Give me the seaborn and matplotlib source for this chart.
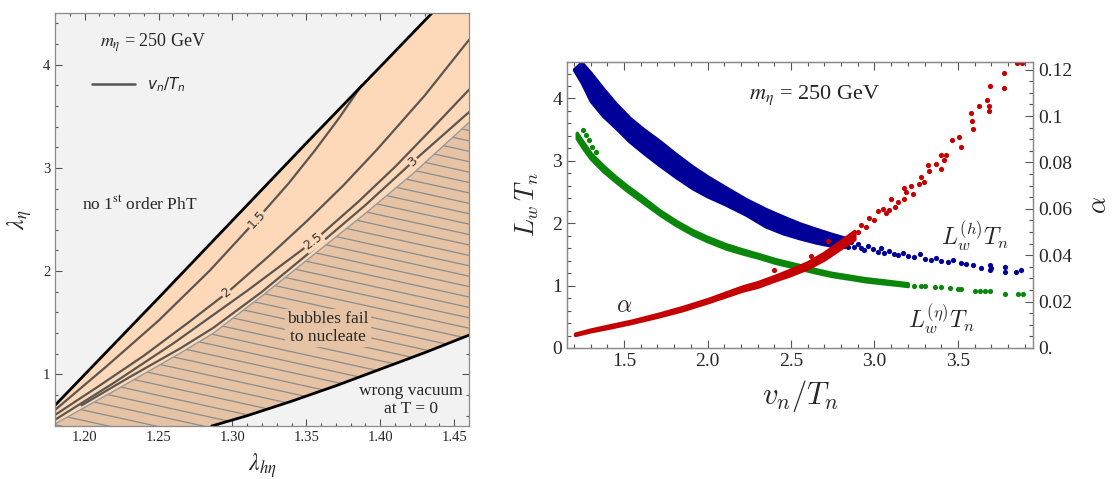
import numpy as np
import matplotlib
matplotlib.use("Agg")
import matplotlib.pyplot as plt
import matplotlib.ticker as mticker
from matplotlib.lines import Line2D
import seaborn as sns

# ====================== LEFT PANEL DATA (lambda_heta, lambda_eta) ======================
LAM_XLIM = (1.18, 1.46)
LAM_YLIM = (0.5, 4.5)
lam_xticks = [1.20, 1.25, 1.30, 1.35, 1.40, 1.45]
lam_yticks = [1, 2, 3, 4]

# boundary: no first-order phase transition (upper black line)
nopt_x = [1.18, 1.25, 1.30, 1.35, 1.40, 1.435]
nopt_y = [0.70, 1.74, 2.49, 3.24, 3.98, 4.50]

# boundary: wrong vacuum at T=0 (lower black line)
vac_x = [1.286, 1.31, 1.34, 1.37, 1.40, 1.43, 1.46]
vac_y = [0.50, 0.60, 0.74, 0.89, 1.05, 1.21, 1.38]

# boundary: bubbles fail to nucleate (top of hatched region)
nucl_x = [1.18, 1.22, 1.2645, 1.287, 1.32, 1.3547, 1.39, 1.4223, 1.46]
nucl_y = [0.52, 0.84, 1.204, 1.398, 1.76, 2.156, 2.56, 2.947, 3.44]

# v_n/T_n contours
c15_x = [1.18, 1.215, 1.25, 1.285, 1.3163, 1.338, 1.356, 1.372, 1.3874]
c15_y = [0.655, 1.08, 1.52, 2.01, 2.497, 2.85, 3.173, 3.48, 3.80]
c20_x = [1.18, 1.21, 1.24, 1.27, 1.296, 1.325, 1.35, 1.375, 1.3975, 1.43, 1.46]
c20_y = [0.607, 0.89, 1.18, 1.50, 1.786, 2.15, 2.48, 2.83, 3.173, 3.70, 4.24]
c25_x = [1.18, 1.22, 1.26, 1.31, 1.3546, 1.385, 1.41, 1.435, 1.46]
c25_y = [0.56, 0.92, 1.30, 1.81, 2.287, 2.67, 3.01, 3.38, 3.757]
c30_x = [1.198, 1.23, 1.2645, 1.287, 1.32, 1.3547, 1.39, 1.4222, 1.46]
c30_y = [0.70, 0.97, 1.25, 1.45, 1.80, 2.21, 2.64, 3.062, 3.54]
contour_labels = ["1.5", "2", "2.5", "3"]
contour_label_x = [1.3163, 1.296, 1.3546, 1.4222]
contour_label_y = [2.497, 1.786, 2.287, 3.062]

# ====================== RIGHT PANEL DATA (v_n/T_n) ======================
VT_XLIM = (1.158, 3.95)
LT_YLIM = (0.0, 4.585)
ALPHA_YLIM = (0.0, 0.1233)
vt_xticks = [1.5, 2.0, 2.5, 3.0, 3.5]
lt_yticks = [0, 1, 2, 3, 4]
alpha_ticks = [0.0, 0.02, 0.04, 0.06, 0.08, 0.10, 0.12]
alpha_tick_labels = ["0.", "0.02", "0.04", "0.06", "0.08", "0.1", "0.12"]

# L_w^(h) T_n : dense band (envelopes) + sparse points
lh_x = [1.20, 1.245, 1.30, 1.374, 1.45, 1.533, 1.62, 1.712, 1.81, 1.91, 2.00, 2.10,
        2.228, 2.347, 2.45, 2.55, 2.65, 2.743, 2.82]
lh_hi = [4.47, 4.58, 4.41, 4.16, 3.92, 3.69, 3.50, 3.32, 3.11, 2.91, 2.75, 2.59,
         2.39, 2.23, 2.11, 2.00, 1.91, 1.83, 1.77]
lh_lo = [4.46, 4.26, 3.96, 3.72, 3.53, 3.31, 3.12, 2.93, 2.74, 2.56, 2.43, 2.31,
         2.14, 1.95, 1.84, 1.76, 1.69, 1.64, 1.62]
lh_pts_x = [2.84, 2.86, 2.88, 2.90, 2.92, 2.94, 2.96, 2.99, 3.02, 3.04, 3.06, 3.09, 3.12,
            3.14, 3.17, 3.20, 3.24, 3.27, 3.30, 3.34, 3.37, 3.40, 3.44, 3.47, 3.52, 3.55,
            3.59, 3.64, 3.69, 3.69, 3.70, 3.78, 3.78, 3.85, 3.88]
lh_pts_y = [1.62, 1.70, 1.62, 1.66, 1.60, 1.57, 1.63, 1.58, 1.54, 1.60, 1.52, 1.56, 1.50,
            1.49, 1.53, 1.47, 1.46, 1.50, 1.42, 1.41, 1.45, 1.39, 1.38, 1.41, 1.36, 1.34,
            1.33, 1.28, 1.33, 1.25, 1.29, 1.30, 1.22, 1.22, 1.25]

# L_w^(eta) T_n
le_x = [1.216, 1.26, 1.30, 1.374, 1.45, 1.513, 1.60, 1.712, 1.81, 1.91, 2.00, 2.109,
        2.20, 2.307, 2.406, 2.545, 2.65, 2.743, 2.85, 2.942, 3.04, 3.14, 3.20]
le_hi = [3.45, 3.28, 3.125, 2.925, 2.745, 2.61, 2.44, 2.21, 2.04, 1.89, 1.78, 1.665,
         1.588, 1.505, 1.425, 1.335, 1.262, 1.206, 1.16, 1.12, 1.09, 1.058, 1.038]
le_lo = [3.36, 3.18, 3.035, 2.835, 2.665, 2.53, 2.36, 2.14, 1.97, 1.82, 1.71, 1.595,
         1.522, 1.445, 1.365, 1.275, 1.208, 1.154, 1.11, 1.07, 1.04, 1.012, 0.992]
le_pts_x = [1.255, 1.27, 1.29, 1.31, 1.333,
            3.24, 3.28, 3.30, 3.36, 3.40, 3.45, 3.50, 3.52, 3.60, 3.63, 3.66, 3.69,
            3.78, 3.86, 3.89]
le_pts_y = [3.49, 3.42, 3.33, 3.23, 3.14,
            1.00, 0.99, 0.99, 0.98, 0.97, 0.96, 0.95, 0.94, 0.92, 0.91, 0.91, 0.91,
            0.87, 0.86, 0.86]

# alpha
al_x = [1.206, 1.30, 1.414, 1.55, 1.712, 1.85, 2.009, 2.10, 2.207, 2.30, 2.406, 2.50,
        2.60, 2.70, 2.80, 2.88]
al_hi = [0.0062, 0.0080, 0.0098, 0.0119, 0.0149, 0.0177, 0.0213, 0.0237, 0.0265, 0.0284,
         0.0312, 0.0339, 0.0370, 0.0412, 0.0463, 0.0505]
al_lo = [0.0056, 0.0072, 0.0088, 0.0109, 0.0137, 0.0163, 0.0199, 0.0221, 0.0247, 0.0264,
         0.0292, 0.0315, 0.0344, 0.0382, 0.0431, 0.0469]
al_pts_x = [2.40, 2.62, 2.72, 2.90, 2.92, 2.95, 2.97, 3.00, 3.02, 3.05, 3.07, 3.09, 3.10,
            3.121, 3.14, 3.18, 3.18, 3.19, 3.22, 3.229, 3.269, 3.279, 3.299, 3.319,
            3.329, 3.368, 3.398, 3.398, 3.418, 3.428, 3.467, 3.505, 3.517, 3.577,
            3.587, 3.59, 3.627, 3.676, 3.686, 3.686, 3.69, 3.775, 3.775, 3.854, 3.884]
al_pts_y = [0.0335, 0.0395, 0.0460, 0.0500, 0.0530, 0.0520, 0.0560, 0.0550, 0.0591,
            0.0601, 0.0580, 0.0594, 0.0644, 0.0608, 0.0629, 0.0644, 0.0690, 0.0672,
            0.0700, 0.0665, 0.0708, 0.0737, 0.0715, 0.0787, 0.0763, 0.0794, 0.0773,
            0.0830, 0.0810, 0.0830, 0.0897, 0.0909, 0.0866, 0.1012, 0.0980, 0.0943,
            0.1045, 0.1070, 0.1045, 0.1020, 0.1130, 0.1184, 0.1120, 0.1230, 0.1230]

# ====================== STYLE ======================
sns.set_style("ticks")
SERIF = ["Liberation Serif", "DejaVu Serif"]
plt.rcParams["font.family"] = SERIF
plt.rcParams["font.serif"] = SERIF
plt.rcParams["mathtext.fontset"] = "stix"

BG_GRAY = "#f2f2f2"
BAND = "#fdd9ba"
HATCHED = "#e6c3a4"
HATCH_LINE = "#8c8c8c"
CONTOUR = "#5c5650"
FRAME = "#8a8a8a"
BLUE = "#000099"
GREEN = "#0a870a"
RED = "#c40000"

fig = plt.figure(figsize=(11.17, 4.79), dpi=100)
ax = fig.add_axes([55 / 1117, 53 / 479, 414 / 1117, 413 / 479])
axr = fig.add_axes([567 / 1117, 131 / 479, 466 / 1117, 286 / 479])

# ---------------------- left panel ----------------------
ax.set_facecolor(BG_GRAY)
ax.set_xlim(*LAM_XLIM)
ax.set_ylim(*LAM_YLIM)

band_poly = list(zip(nopt_x, nopt_y)) + [(LAM_XLIM[1], LAM_YLIM[1])] + \
    list(zip(nucl_x[::-1], nucl_y[::-1]))
hatch_poly = list(zip(nucl_x, nucl_y)) + list(zip(vac_x[::-1], vac_y[::-1])) + \
    [(LAM_XLIM[0], LAM_YLIM[0])]
ax.fill(*zip(*band_poly), color=BAND, lw=0, zorder=1)
hatch_patch = ax.fill(*zip(*hatch_poly), color=HATCHED, lw=0, zorder=1)[0]

for c in np.arange(-0.4, 1.4, 0.0252):
    ln, = ax.plot([0, 1], [c, c - 0.22], transform=ax.transAxes, color=HATCH_LINE,
                  lw=0.9, zorder=2)
    ln.set_clip_path(hatch_patch)

sns.lineplot(x=nucl_x, y=nucl_y, ax=ax, sort=False, estimator=None, color="#9a9a9a",
             lw=1.0, zorder=3)
for cx, cy in [(c15_x, c15_y), (c20_x, c20_y), (c25_x, c25_y), (c30_x, c30_y)]:
    sns.lineplot(x=cx, y=cy, ax=ax, sort=False, estimator=None, color=CONTOUR,
                 lw=1.6, zorder=4)
sns.lineplot(x=nopt_x, y=nopt_y, ax=ax, sort=False, estimator=None, color="black",
             lw=2.0, zorder=5)
sns.lineplot(x=vac_x, y=vac_y, ax=ax, sort=False, estimator=None, color="black",
             lw=2.0, zorder=5)

# contour labels, rotated along their contour
for lab, lx, ly, (cx, cy) in zip(contour_labels, contour_label_x, contour_label_y,
                                 [(c15_x, c15_y), (c20_x, c20_y), (c25_x, c25_y),
                                  (c30_x, c30_y)]):
    i = int(np.searchsorted(cx, lx))
    i = min(max(i, 1), len(cx) - 1)
    p0 = ax.transData.transform((cx[i - 1], cy[i - 1]))
    p1 = ax.transData.transform((cx[i], cy[i]))
    ang = np.degrees(np.arctan2(p1[1] - p0[1], p1[0] - p0[0]))
    ax.text(lx, ly, lab, rotation=ang, rotation_mode="anchor", ha="center", va="center",
            fontsize=9, family="DejaVu Sans", color="#333333", zorder=6,
            bbox=dict(boxstyle="square,pad=0.08", fc=BAND, ec="none"))

ax.text(1.2104, 4.21, r"$m_\eta$ = 250 GeV", fontsize=13, ha="left", va="center", zorder=7)
ax.text(1.198, 2.64, r"no 1$^{\mathrm{st}}$ order PhT", fontsize=12.5, ha="left",
        va="center", zorder=7)
ax.text(1.3646, 1.449, "bubbles fail\nto nucleate", fontsize=12.5, ha="center",
        va="center", linespacing=1.15, zorder=7,
        bbox=dict(boxstyle="square,pad=0.12", fc=HATCHED, ec="none"))
ax.text(1.4208, 0.752, "wrong vacuum\nat T = 0", fontsize=12.5, ha="center",
        va="center", linespacing=1.2, zorder=7)

leg = ax.legend(handles=[Line2D([], [], color="#555555", lw=1.8)],
                labels=[r"$v_n/T_n$"], loc="center left", bbox_to_anchor=(0.089, 0.826),
                frameon=False, borderpad=0, borderaxespad=0, handlelength=2.8,
                handletextpad=0.8, fontsize=11)
leg.get_texts()[0].set_math_fontfamily("dejavusans")

ax.set_xticks(lam_xticks)
ax.set_yticks(lam_yticks)
ax.xaxis.set_major_formatter(mticker.FormatStrFormatter("%.2f"))
ax.xaxis.set_minor_locator(mticker.MultipleLocator(0.01))
ax.yaxis.set_minor_locator(mticker.MultipleLocator(0.2))
ax.tick_params(which="both", direction="in", top=True, right=True, color="#555555",
               labelsize=10.5, width=0.8, labelfontfamily="Liberation Serif")
ax.tick_params(which="major", length=5)
ax.tick_params(which="minor", length=2.5)
for s in ax.spines.values():
    s.set_color(FRAME)
    s.set_linewidth(0.9)
    s.set_zorder(8)
ax.set_xlabel(r"$\lambda_{h\eta}$", fontsize=17, labelpad=5)
ax.set_ylabel(r"$\lambda_\eta$", fontsize=17, labelpad=6)

# ---------------------- right panel ----------------------
axa = axr.twinx()
axr.set_xlim(*VT_XLIM)
axr.set_ylim(*LT_YLIM)
axa.set_ylim(*ALPHA_YLIM)

DOT = 14
EDGE = 2.4   # outline width standing in for the dot radius at the band edges
axr.fill_between(lh_x, lh_lo, lh_hi, facecolor=BLUE, edgecolor=BLUE, lw=EDGE,
                 joinstyle="round", zorder=2)
sns.scatterplot(x=lh_pts_x, y=lh_pts_y, ax=axr, color=BLUE, s=DOT, linewidth=0, zorder=2)

axr.fill_between(le_x, le_lo, le_hi, facecolor=GREEN, edgecolor=GREEN, lw=EDGE,
                 joinstyle="round", zorder=2)
sns.scatterplot(x=le_pts_x, y=le_pts_y, ax=axr, color=GREEN, s=DOT, linewidth=0, zorder=2)

axa.fill_between(al_x, al_lo, al_hi, facecolor=RED, edgecolor=RED, lw=EDGE,
                 joinstyle="round", zorder=2)
sns.scatterplot(x=al_pts_x, y=al_pts_y, ax=axa, color=RED, s=DOT, linewidth=0, zorder=2)

axr.set_xticks(vt_xticks)
axr.xaxis.set_major_formatter(mticker.FormatStrFormatter("%.1f"))
axr.xaxis.set_minor_locator(mticker.MultipleLocator(0.1))
axr.set_yticks(lt_yticks)
axr.yaxis.set_minor_locator(mticker.MultipleLocator(0.2))
axa.set_yticks(alpha_ticks)
axa.set_yticklabels(alpha_tick_labels)
axa.yaxis.set_minor_locator(mticker.MultipleLocator(0.005))

axr.tick_params(which="both", direction="in", top=True, right=False, color="#555555",
                labelsize=14, width=0.8, labelfontfamily="Liberation Serif")
axa.tick_params(which="both", direction="in", right=True, left=False, color="#555555",
                labelsize=14, width=0.8, labelfontfamily="Liberation Serif")
for a in (axr, axa):
    a.tick_params(which="major", length=6)
    a.tick_params(which="minor", length=3)
    for s in a.spines.values():
        s.set_color(FRAME)
        s.set_linewidth(0.9)

axr.set_xlabel(r"$v_n/T_n$", fontsize=22, labelpad=6, math_fontfamily="cm")
axr.set_ylabel(r"$L_w\,T_n$", fontsize=19, labelpad=8, math_fontfamily="cm")
axa.set_ylabel(r"$\alpha$", fontsize=19, labelpad=12, math_fontfamily="cm")

axr.text(2.64, 4.05, r"$m_\eta$ = 250 GeV", fontsize=16, ha="center", va="center")
axr.text(3.60, 1.80, r"$L_w^{(h)}T_n$", fontsize=17, ha="center", va="center",
         math_fontfamily="cm")
axr.text(3.40, 0.46, r"$L_w^{(\eta)}T_n$", fontsize=17, ha="center", va="center",
         math_fontfamily="cm")
axr.text(1.503, 0.66, r"$\alpha$", fontsize=17, ha="center", va="center",
         math_fontfamily="cm")

fig.savefig("out.png", dpi=100)
